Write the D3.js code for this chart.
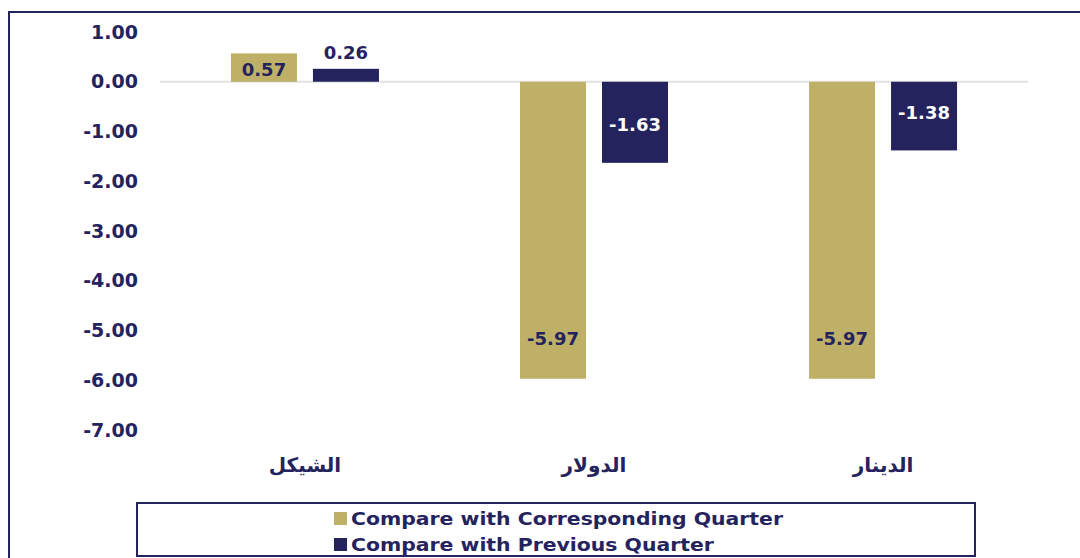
<!DOCTYPE html>
<html>
<head>
<meta charset="utf-8">
<script src="https://cdn.jsdelivr.net/npm/d3@7"></script>
<style>
  body { margin: 0; background: #fff; }
  text { font-family: "DejaVu Sans", sans-serif; font-weight: bold; }
</style>
</head>
<body>
<script>
// data
const categories = ["الشيكل", "الدولار", "الدينار"]
const seriesNames = ["Compare with Corresponding Quarter", "Compare with Previous Quarter"]
const corresponding = [0.57, -5.97, -5.97]
const previous = [0.26, -1.63, -1.38]
const yTicks = [1, 0, -1, -2, -3, -4, -5, -6, -7]

const navy = "#25235d"
const gold = "#bfb068"
const colors = [gold, navy]

const width = 1080, height = 558

const svg = d3.select("body").append("svg")
    .attr("width", width)
    .attr("height", height)

// frame
svg.append("path")
    .attr("d", "M9,558 L9,12 L1080,12")
    .attr("fill", "none")
    .attr("stroke", navy)
    .attr("stroke-width", 2)

const y = d3.scaleLinear().domain([-7, 1]).range([430, 32])

const x0 = d3.scaleBand()
    .domain(categories)
    .range([160, 1028])
    .paddingInner(0.488)
    .paddingOuter(0.2455)

const x1 = d3.scaleBand()
    .domain(seriesNames)
    .range([0, x0.bandwidth()])
    .paddingInner(0.195)

// plain hyphen instead of unicode minus
let fmt = d => d3.format(".2f")(d).replace("\u2212", "-")

// y axis
const yAxis = svg.append("g")
    .attr("transform", "translate(160,0)")
    .call(d3.axisLeft(y).tickValues(yTicks).tickFormat(fmt).tickSize(0).tickPadding(22))
yAxis.select(".domain").remove()
yAxis.selectAll("text")
    .attr("fill", navy)
    .style("font-size", "19px")
    .style("font-family", "DejaVu Sans")
    .style("font-weight", "bold")

// zero line
svg.append("line")
    .attr("x1", 160).attr("x2", 1028)
    .attr("y1", y(0)).attr("y2", y(0))
    .attr("stroke", "#e2e2e2")
    .attr("stroke-width", 2)

// table of bars
let rows = []
categories.forEach((c, i) => {
    rows.push({ cat: c, series: seriesNames[0], value: corresponding[i], idx: 0 })
    rows.push({ cat: c, series: seriesNames[1], value: previous[i], idx: 1 })
})

svg.selectAll(".bar")
    .data(rows)
    .enter()
    .append("rect")
    .attr("class", "bar")
    .attr("x", d => x0(d.cat) + x1(d.series))
    .attr("y", d => y(Math.max(0, d.value)))
    .attr("width", x1.bandwidth())
    .attr("height", d => Math.abs(y(d.value) - y(0)))
    .attr("fill", d => colors[d.idx])

// value labels
let labelY = d => {
    if (d.value >= 0) {
        // small positive: corresponding sits inside, previous sits above
        return d.idx == 0 ? (y(d.value) + y(0)) / 2 + 2 : y(d.value) - 16
    }
    return d.idx == 0 ? y(d.value) - 40 : y(d.value) - 38
}
svg.selectAll(".val")
    .data(rows)
    .enter()
    .append("text")
    .attr("class", "val")
    .text(d => d.value.toFixed(2))
    .attr("x", d => x0(d.cat) + x1(d.series) + x1.bandwidth() / 2)
    .attr("y", labelY)
    .attr("dy", "0.36em")
    .attr("text-anchor", "middle")
    .attr("font-size", "18px")
    .attr("fill", d => (d.idx == 1 && d.value < 0) ? "#fff" : navy)

// category labels
svg.selectAll(".cat")
    .data(categories)
    .enter()
    .append("text")
    .attr("class", "cat")
    .text(d => d)
    .attr("x", d => x0(d) + x0.bandwidth() / 2)
    .attr("y", 465)
    .attr("dy", "0.36em")
    .attr("text-anchor", "middle")
    .attr("direction", "rtl")
    .attr("font-size", "20px")
    .attr("fill", navy)

// legend
svg.append("rect")
    .attr("x", 137).attr("y", 503)
    .attr("width", 838).attr("height", 53)
    .attr("fill", "none")
    .attr("stroke", navy)
    .attr("stroke-width", 2)

const legend = svg.selectAll(".leg")
    .data(seriesNames)
    .enter()
    .append("g")
    .attr("class", "leg")
    .attr("transform", (d, i) => "translate(334," + (519 + i * 26) + ")")
legend.append("rect")
    .attr("x", 0).attr("y", -7)
    .attr("width", 13).attr("height", 13)
    .attr("fill", (d, i) => colors[i])
legend.append("text")
    .text(d => d)
    .attr("transform", "translate(17,0) scale(1.2,1)")
    .attr("dy", "0.36em")
    .attr("font-size", "17px")
    .attr("fill", navy)
</script>
</body>
</html>
